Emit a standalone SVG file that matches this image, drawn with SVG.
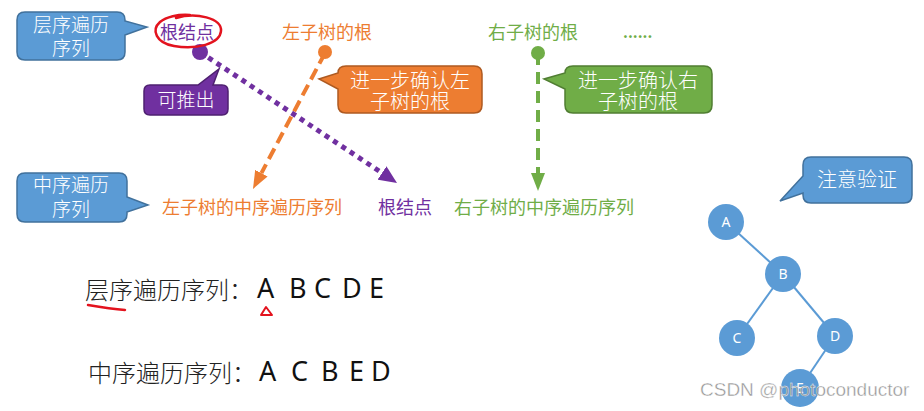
<svg xmlns="http://www.w3.org/2000/svg" width="924" height="411" viewBox="0 0 924 411">
<defs>
<style>
.cjk{font-family:"Noto Sans CJK SC","Noto Sans",sans-serif;}
.call{stroke-width:1.5;}
.blue{fill:#5B9BD5;stroke:#41719C;}
.orange{fill:#ED7D31;stroke:#AE5A21;}
.green{fill:#70AD47;stroke:#507E32;}
.purple{fill:#7030A0;stroke:#4E2070;}
.ct{fill:#ffffff;font-size:19px;text-anchor:middle;font-weight:300;}
.lbl{font-size:18px;font-weight:400;}
.tO{fill:#ED7D31;}
.tG{fill:#70AD47;}
.tP{fill:#7030A0;}
.edge{stroke:#5B9BD5;stroke-width:2;fill:none;}
.node{fill:#5B9BD5;}
.nt{fill:#ffffff;font-family:"Noto Sans","Open Sans",sans-serif;font-size:14px;text-anchor:middle;}
.big{font-family:"Noto Sans","Open Sans",sans-serif;font-size:27px;fill:#111;}
.seq{font-size:24px;fill:#222;font-weight:300;}
.red{fill:none;stroke:#E3131E;stroke-width:2.5;stroke-linecap:round;stroke-linejoin:round;}
</style>
<marker id="ahP" viewBox="0 -8 18 16" refX="0" refY="0" markerWidth="18" markerHeight="16" markerUnits="userSpaceOnUse" orient="auto"><path d="M0,-8 L18,0 L0,8 Z" fill="#7030A0"/></marker>
<marker id="ahO" viewBox="0 -8 18 16" refX="0" refY="0" markerWidth="18" markerHeight="16" markerUnits="userSpaceOnUse" orient="auto"><path d="M0,-7 L18,0 L0,7 Z" fill="#ED7D31"/></marker>
<marker id="ahG" viewBox="0 -8 18 16" refX="0" refY="0" markerWidth="18" markerHeight="16" markerUnits="userSpaceOnUse" orient="auto"><path d="M0,-7 L18,0 L0,7 Z" fill="#70AD47"/></marker>
</defs>
<rect width="924" height="411" fill="#ffffff"/>

<g id="connectors">
<line x1="200" y1="52" x2="382" y2="173" stroke="#7030A0" stroke-width="5" stroke-dasharray="5 5" marker-end="url(#ahP)"/>
<line x1="325" y1="53" x2="261.4" y2="173.1" stroke="#ED7D31" stroke-width="4" stroke-dasharray="12 6" marker-end="url(#ahO)"/>
<line x1="538" y1="53" x2="538" y2="173" stroke="#70AD47" stroke-width="4" stroke-dasharray="12 7" marker-end="url(#ahG)"/>
<circle cx="200" cy="52" r="8" fill="#7030A0"/>
<circle cx="325" cy="52" r="7" fill="#ED7D31"/>
<circle cx="538" cy="53" r="7" fill="#70AD47"/>
<line class="edge" x1="726" y1="222" x2="783" y2="274"/>
<line class="edge" x1="783" y1="274" x2="737" y2="338"/>
<line class="edge" x1="783" y1="274" x2="835" y2="336"/>
<line class="edge" x1="835" y1="336" x2="800" y2="388"/>
</g>

<g id="callout-level" class="cjk">
<path class="call blue" d="M25,12 H117 Q125,12 125,20 V21 L147,27 L125,35 V52 Q125,60 117,60 H25 Q17,60 17,52 V20 Q17,12 25,12 Z"/>
<text class="ct"><tspan x="71" y="32">层序遍历</tspan><tspan x="71" y="55">序列</tspan></text>
</g>

<g id="callout-infer" class="cjk">
<path class="call purple" d="M150,85 H198 L219,69 L213,85 H222 Q228,85 228,91 V109 Q228,115 222,115 H150 Q144,115 144,109 V91 Q144,85 150,85 Z"/>
<text class="ct" x="186" y="107">可推出</text>
</g>

<g id="callout-left" class="cjk">
<path class="call orange" d="M346,66 H474 Q482,66 482,74 V105 Q482,113 474,113 H346 Q338,113 338,105 V89 L319,79 L338,73 Q338,66 346,66 Z"/>
<text class="ct" style="font-size:20px"><tspan x="410" y="88">进一步确认左</tspan><tspan x="410" y="109">子树的根</tspan></text>
</g>

<g id="callout-right" class="cjk">
<path class="call green" d="M573,66 H704 Q712,66 712,74 V105 Q712,113 704,113 H573 Q565,113 565,105 V89 L544,79 L565,73 Q565,66 573,66 Z"/>
<text class="ct" style="font-size:20px"><tspan x="638" y="88">进一步确认右</tspan><tspan x="638" y="109">子树的根</tspan></text>
</g>

<g id="callout-inorder" class="cjk">
<path class="call blue" d="M25,173 H119 Q127,173 127,181 V197 L148,205 L127,212 V214 Q127,222 119,222 H25 Q17,222 17,214 V181 Q17,173 25,173 Z"/>
<text class="ct"><tspan x="71" y="192">中序遍历</tspan><tspan x="71" y="216">序列</tspan></text>
</g>

<g id="callout-verify" class="cjk">
<path class="call blue" d="M811,157 H904 Q912,157 912,165 V195 Q912,203 904,203 H811 Q803,203 803,195 V193 L780,201 L803,176 V165 Q803,157 811,157 Z"/>
<text class="ct" x="857" y="187" style="font-size:20px">注意验证</text>
</g>

<g id="label-root-top" class="cjk">
<text class="lbl tP" x="160" y="39">根结点</text>
<path class="red" d="M176,18 C196,12 222,18 221,31 C220,44 196,50 174,46 C156,43 151,30 160,22 C166,17 178,14 190,15"/>
</g>
<g id="label-left-root" class="cjk"><text class="lbl tO" x="282" y="39">左子树的根</text></g>
<g id="label-right-root" class="cjk"><text class="lbl tG" x="488" y="39">右子树的根</text></g>
<g id="label-more" class="cjk"><text class="tG" x="623" y="38" style="font-size:15px;font-weight:bold">......</text></g>

<g id="label-left-in" class="cjk"><text class="lbl tO" x="162" y="214">左子树的中序遍历序列</text></g>
<g id="label-root-in" class="cjk"><text class="lbl tP" x="378" y="214">根结点</text></g>
<g id="label-right-in" class="cjk"><text class="lbl tG" x="454" y="214">右子树的中序遍历序列</text></g>

<g id="level-seq">
<text class="cjk seq" x="85" y="299">层序遍历序列：</text>
<text class="big" x="257 289 314 342 369" y="298">ABCDE</text>
<path class="red" d="M88,305 C100,307 113,309 125,310"/>
<path class="red" d="M266,307 L261,315 L272,315 Z" style="stroke-width:2"/>
</g>
<g id="in-seq">
<text class="cjk seq" x="88" y="382">中序遍历序列：</text>
<text class="big" x="259 291 321 349 371" y="381">ACBED</text>
</g>

<g id="node-A"><circle class="node" cx="726" cy="222" r="18"/><text class="nt" x="726" y="227">A</text></g>
<g id="node-B"><circle class="node" cx="783" cy="274" r="18"/><text class="nt" x="783" y="279">B</text></g>
<g id="node-C"><circle class="node" cx="737" cy="338" r="18"/><text class="nt" x="737" y="343">C</text></g>
<g id="node-D"><circle class="node" cx="835" cy="336" r="18"/><text class="nt" x="835" y="341">D</text></g>
<g id="node-E"><circle class="node" cx="800" cy="388" r="19"/><text class="nt" x="800" y="393">E</text></g>

<text x="700" y="396" style="font-family:'Liberation Sans',Arial,sans-serif;font-size:19px;fill:#8a8a8a;stroke:#ffffff;stroke-width:0.4;opacity:0.9">CSDN @photoconductor</text>
</svg>
